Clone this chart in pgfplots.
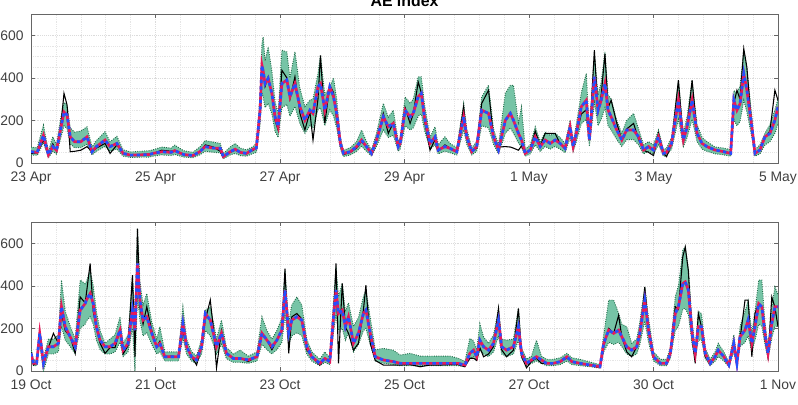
\documentclass[border=0pt]{standalone}
\usepackage{fontspec}
\setmainfont{Liberation Sans}
\usepackage{pgfplots}
\usepackage{pgfplotstable}
\pgfplotsset{compat=1.18}
\usepgfplotslibrary{fillbetween}

\definecolor{band}{RGB}{118,196,166}
\definecolor{bandedge}{RGB}{35,110,75}
\definecolor{pred}{RGB}{232,25,90}
\definecolor{pblue}{RGB}{35,80,255}

% d = days from first tick, obs = observed, pr = prediction, lo/hi = band
\pgfplotstableread{
d obs pr lo hi
0.00 45 53 38 75
0.10 48 50 36 72
0.20 108 130 95 178
0.28 35 38 25 55
0.35 90 77 55 123
0.41 55 60 42 85
0.47 150 150 108 200
0.53 327 240 175 285
0.58 272 225 160 270
0.63 53 123 90 165
0.70 55 100 72 145
0.80 60 100 72 150
0.90 77 123 88 170
0.98 53 53 38 75
1.05 70 77 55 105
1.19 92 108 78 147
1.27 45 77 55 100
1.38 85 92 66 125
1.48 45 45 32 62
1.60 38 37 26 52
1.75 40 38 27 55
1.90 42 40 28 58
1.96 45 45 32 62
2.10 60 53 38 75
2.25 55 50 35 70
2.31 60 58 40 84
2.45 40 40 28 58
2.60 35 35 25 50
2.71 50 53 38 75
2.80 85 77 55 105
2.93 75 70 50 98
3.04 55 69 48 92
3.09 30 30 20 45
3.20 50 53 38 75
3.28 60 65 45 92
3.36 50 50 35 70
3.46 45 45 32 62
3.57 60 65 45 77
3.62 70 70 50 95
3.68 250 248 180 320
3.71 459 459 330 560
3.73 440 430 310 592
3.76 360 373 260 480
3.81 405 397 280 545
3.87 320 327 230 430
3.92 200 217 150 290
3.97 155 170 120 230
4.03 436 373 260 530
4.11 400 390 275 522
4.16 300 311 220 400
4.24 405 373 265 522
4.32 233 264 185 350
4.40 155 201 140 265
4.48 240 248 175 295
4.53 108 233 165 300
4.61 300 358 250 420
4.65 506 373 260 506
4.72 186 248 175 320
4.80 365 358 250 358
4.86 330 311 220 400
4.91 200 233 165 300
4.97 90 92 65 120
5.02 40 45 30 60
5.13 50 53 38 72
5.23 70 77 55 100
5.31 100 108 78 155
5.39 75 77 55 100
5.47 45 45 32 62
5.55 100 108 78 140
5.66 233 217 155 280
5.74 139 170 120 215
5.82 190 186 130 248
5.90 80 77 55 100
5.93 90 92 65 120
6.01 260 248 175 310
6.09 186 217 155 280
6.14 230 233 165 300
6.22 381 311 220 405
6.27 330 327 230 405
6.32 200 217 155 280
6.41 60 92 65 120
6.49 110 123 85 170
6.54 55 61 43 85
6.65 85 77 55 123
6.73 70 69 48 92
6.84 50 53 38 72
6.95 264 217 155 280
7.00 120 123 88 160
7.08 50 53 38 72
7.16 70 77 55 100
7.24 280 248 175 310
7.35 342 233 165 365
7.43 120 123 88 160
7.51 75 61 43 85
7.62 77 201 140 327
7.70 75 233 165 365
7.75 70 201 140 365
7.83 60 139 95 190
7.88 80 108 75 264
7.94 45 45 32 65
8.02 60 61 43 85
8.10 150 123 85 170
8.18 80 77 55 100
8.26 139 108 78 145
8.34 139 92 65 130
8.42 139 108 78 140
8.50 90 92 65 120
8.58 70 69 48 92
8.66 160 170 120 201
8.71 80 77 55 100
8.76 130 139 100 180
8.84 230 264 185 330
8.92 250 295 205 420
8.97 110 108 78 150
9.05 530 405 285 514
9.11 240 248 175 320
9.16 320 295 205 380
9.22 514 373 260 522
9.27 260 248 175 320
9.32 295 217 155 300
9.41 186 155 110 200
9.49 110 108 78 140
9.57 160 155 110 200
9.68 186 155 110 233
9.76 110 123 85 160
9.84 60 61 43 85
9.92 50 77 55 100
10.00 35 61 43 85
10.08 140 123 85 155
10.16 45 45 32 62
10.21 30 50 35 70
10.29 90 92 65 120
10.40 389 295 205 389
10.48 100 108 78 140
10.54 170 170 120 220
10.62 389 295 205 389
10.70 140 139 100 180
10.78 90 92 65 120
10.86 75 77 55 100
10.99 60 61 43 75
11.13 55 53 38 70
11.24 45 45 32 62
11.29 280 295 205 340
11.34 342 248 175 330
11.39 300 278 195 360
11.45 537 420 295 530
11.50 450 342 240 440
11.58 160 170 120 220
11.63 45 45 32 62
11.71 60 61 43 85
11.79 120 123 85 139
11.87 150 139 100 180
11.95 342 201 140 250
12.00 295 264 185 300
}\aprdata

\pgfplotstableread{
d obs pr lo hi
0.00 90 83 60 110
0.04 28 36 25 50
0.09 40 36 25 55
0.14 177 177 125 192
0.20 36 36 0 60
0.28 110 114 80 150
0.36 177 114 80 150
0.44 130 130 90 170
0.49 270 302 210 427
0.55 190 208 145 280
0.63 161 161 115 210
0.71 83 114 80 150
0.79 348 286 200 427
0.87 320 317 220 410
0.89 364 333 235 420
0.95 505 364 255 473
1.00 280 317 220 400
1.05 200 208 145 280
1.11 130 145 100 190
1.19 83 114 80 130
1.27 110 114 80 150
1.35 110 130 90 170
1.43 192 192 135 255
1.48 80 98 68 130
1.56 120 130 90 170
1.63 450 286 200 440
1.67 67 192 0 250
1.71 669 505 350 669
1.75 300 333 235 420
1.80 220 239 165 310
1.86 302 255 180 364
1.94 190 177 125 230
2.02 114 114 80 150
2.07 140 130 90 208
2.15 67 67 47 90
2.26 70 67 47 90
2.37 65 67 47 90
2.44 190 223 155 302
2.50 114 114 80 150
2.58 67 67 47 90
2.66 28 52 36 70
2.74 114 114 80 150
2.80 240 270 190 286
2.88 333 239 165 300
2.93 200 177 125 230
2.98 15 114 80 150
3.06 190 177 125 239
3.14 83 83 58 110
3.25 59 59 41 80
3.36 59 59 41 98
3.49 45 52 36 70
3.63 67 67 47 90
3.71 177 177 125 255
3.79 145 145 100 190
3.87 100 114 80 150
3.95 145 145 100 190
4.03 192 192 135 250
4.08 481 380 265 470
4.14 83 177 125 230
4.19 255 239 165 310
4.27 270 255 180 348
4.35 245 239 165 310
4.43 100 114 80 150
4.51 67 67 47 90
4.64 28 36 25 55
4.72 59 59 41 90
4.80 44 44 30 62
4.86 255 255 180 330
4.90 505 380 265 490
4.94 36 270 190 350
5.00 411 286 200 411
5.05 208 208 145 280
5.10 177 255 180 320
5.18 98 130 90 210
5.26 130 177 125 250
5.34 286 270 190 350
5.38 403 286 200 380
5.45 130 177 125 250
5.53 50 67 47 100
5.66 28 52 36 106
5.82 28 44 30 98
5.93 28 36 25 75
6.09 30 36 25 83
6.25 20 36 25 70
6.41 28 36 25 70
6.57 28 36 25 70
6.73 30 36 25 70
6.86 30 36 25 60
6.97 20 28 20 45
7.05 60 83 58 153
7.11 60 98 68 140
7.16 50 67 47 100
7.21 110 145 100 223
7.27 67 114 80 160
7.35 80 98 68 130
7.43 115 130 90 170
7.51 294 239 165 294
7.56 100 114 80 150
7.64 67 98 68 145
7.75 98 114 80 150
7.83 294 208 145 294
7.88 70 83 58 110
7.96 15 36 25 55
8.04 45 52 36 70
8.12 60 67 47 145
8.20 36 52 36 70
8.28 36 36 25 55
8.39 36 36 25 55
8.50 44 44 30 62
8.61 60 67 47 83
8.69 44 44 30 62
8.82 36 36 25 55
8.98 28 28 20 42
9.14 15 20 14 30
9.20 115 130 90 170
9.28 200 192 135 333
9.36 177 177 125 333
9.44 262 192 135 270
9.49 161 161 115 220
9.57 90 114 80 208
9.65 67 98 68 130
9.73 114 114 80 150
9.78 160 177 125 230
9.86 395 333 235 395
9.92 192 192 135 250
10.00 67 67 47 90
10.11 36 36 25 55
10.21 36 36 25 55
10.27 83 83 58 110
10.35 302 270 190 350
10.40 290 302 210 400
10.47 536 411 290 567
10.51 583 419 295 583
10.56 470 380 265 480
10.62 150 177 125 230
10.67 36 83 58 110
10.72 270 208 145 280
10.77 208 208 145 270
10.83 67 83 58 110
10.91 36 36 25 55
10.99 67 67 47 90
11.04 98 98 68 130
11.13 67 67 47 90
11.21 28 28 20 42
11.29 115 130 90 170
11.34 36 36 25 55
11.39 150 161 115 210
11.47 333 192 135 280
11.52 333 239 165 330
11.58 67 130 90 180
11.63 270 208 145 280
11.69 316 316 220 427
11.74 302 302 210 427
11.79 150 177 125 230
11.84 67 83 58 110
11.90 348 223 155 300
11.95 300 302 210 395
12.00 208 302 210 360
}\octdata

\pgfplotsset{
  aepanel/.style={
    scale only axis, width=560.25pt, height=111.75pt,
    xmin=0, xmax=12, ymin=0, ymax=700,
    xtick={0,2,...,12}, ytick={0,200,400,600},
    minor x tick num=4, minor y tick num=3,
    grid=both,
    major grid style={densely dotted, black!14},
    minor grid style={densely dotted, black!10},
    tick align=inside, major tick length=3pt, minor tick length=0pt,
    axis line style={black!60, line width=0.6pt},
    tick style={black!60, line width=0.5pt},
    ticklabel style={font=\fontsize{10.4}{12}\selectfont, text=black!75},
    /pgf/number format/assume math mode=true,
    yticklabel style={xshift=-2pt},
    xticklabel style={yshift=-3pt},
    clip mode=individual,
  },
  band edge/.style={bandedge, densely dotted, line width=0.7pt},
}

\newcommand{\aeseries}[1]{%
  \addplot[band edge, name path=hi] table[x=d, y=hi] {#1};
  \addplot[band edge, name path=lo] table[x=d, y=lo] {#1};
  \addplot[band, fill opacity=1] fill between[of=hi and lo];
  \addplot[black, line width=0.8pt] table[x=d, y=obs] {#1};
  \addplot[pred, line width=2pt] table[x=d, y=pr] {#1};
  \addplot[pblue, line width=2pt, dash pattern=on 2.5pt off 2.5pt] table[x=d, y=pr] {#1};
}

\begin{document}
\begin{tikzpicture}
\begin{axis}[aepanel, name=top, at={(0,0)}, anchor=south west,
  xticklabels={23 Apr,25 Apr,27 Apr,29 Apr,1 May,3 May,5 May}]
  \aeseries{\aprdata}
  \node[anchor=base, font=\bfseries\fontsize{11.9}{14}\selectfont]
    at (rel axis cs:0.5,1) [yshift=5.5pt] {AE index};
\end{axis}
\begin{axis}[aepanel, name=bottom, at={(0,-156pt)}, anchor=south west,
  xticklabels={19 Oct,21 Oct,23 Oct,25 Oct,27 Oct,30 Oct,1 Nov}]
  \aeseries{\octdata}
\end{axis}
\pgfresetboundingbox
\path[use as bounding box] (-23.25pt,-180.75pt) rectangle (575.25pt,122.25pt);
\end{tikzpicture}
\end{document}
